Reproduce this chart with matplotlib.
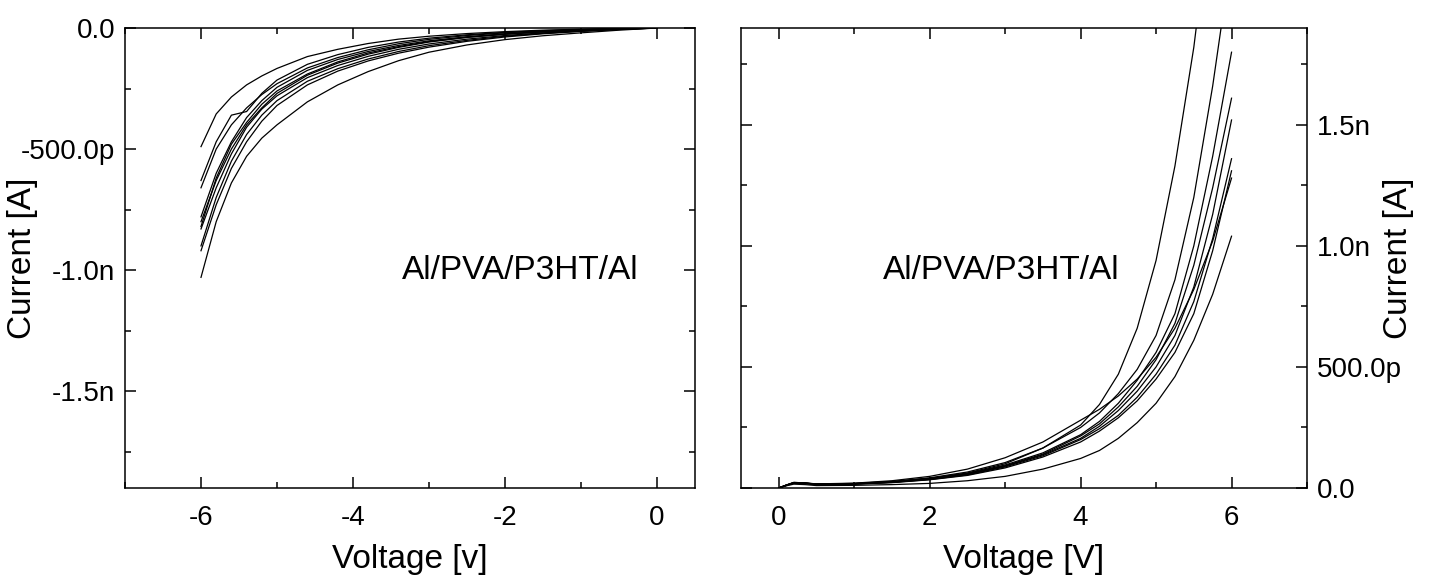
import matplotlib
matplotlib.use("Agg")
import matplotlib.pyplot as plt
from matplotlib.ticker import MultipleLocator

plt.rcParams['font.family'] = ['Liberation Sans', 'DejaVu Sans']
plt.rcParams['axes.unicode_minus'] = False

# ---------------- data (current in nA) ----------------
# Left panel: reverse bias sweeps
v_left = [-6.0, -5.8, -5.6, -5.4, -5.2, -5.0, -4.6, -4.2, -3.8, -3.4, -3.0, -2.5, -2.0, -1.5, -1.0, -0.5, 0.0]
i_left_1 = [-0.49, -0.355, -0.285, -0.235, -0.198, -0.167, -0.118, -0.088, -0.064, -0.046, -0.034, -0.023, -0.015, -0.009, -0.005, -0.002, 0.0]
i_left_2 = [-0.63, -0.47, -0.36, -0.345, -0.27, -0.215, -0.150, -0.110, -0.080, -0.058, -0.042, -0.028, -0.018, -0.011, -0.006, -0.002, 0.0]
i_left_3 = [-0.66, -0.50, -0.40, -0.33, -0.275, -0.230, -0.165, -0.122, -0.090, -0.065, -0.047, -0.031, -0.020, -0.012, -0.007, -0.003, 0.0]
i_left_4 = [-0.78, -0.60, -0.47, -0.37, -0.30, -0.245, -0.175, -0.130, -0.097, -0.072, -0.053, -0.036, -0.024, -0.015, -0.008, -0.003, 0.0]
i_left_5 = [-0.80, -0.63, -0.50, -0.40, -0.33, -0.270, -0.195, -0.145, -0.108, -0.080, -0.058, -0.039, -0.026, -0.016, -0.009, -0.004, 0.0]
i_left_6 = [-0.82, -0.62, -0.48, -0.39, -0.315, -0.260, -0.190, -0.140, -0.103, -0.077, -0.056, -0.038, -0.025, -0.016, -0.009, -0.004, 0.0]
i_left_7 = [-0.83, -0.66, -0.52, -0.41, -0.335, -0.280, -0.205, -0.155, -0.117, -0.088, -0.066, -0.046, -0.031, -0.020, -0.012, -0.005, 0.0]
i_left_8 = [-0.90, -0.70, -0.55, -0.44, -0.36, -0.300, -0.220, -0.168, -0.128, -0.097, -0.073, -0.051, -0.034, -0.022, -0.013, -0.006, 0.0]
i_left_9 = [-0.92, -0.73, -0.58, -0.47, -0.385, -0.320, -0.235, -0.178, -0.136, -0.104, -0.079, -0.055, -0.037, -0.024, -0.014, -0.006, 0.0]
i_left_10 = [-1.03, -0.80, -0.64, -0.53, -0.455, -0.40, -0.305, -0.235, -0.180, -0.135, -0.100, -0.070, -0.048, -0.032, -0.020, -0.009, 0.0]

# Right panel: forward bias sweeps
v_right = [0.0, 0.1, 0.2, 0.35, 0.5, 1.0, 1.5, 2.0, 2.5, 3.0, 3.5, 4.0, 4.25, 4.5, 4.75, 5.0, 5.25, 5.5, 5.75, 6.0]
i_right_1 = [0.0, 0.012, 0.022, 0.020, 0.016, 0.018, 0.026, 0.040, 0.062, 0.100, 0.165, 0.26, 0.345, 0.47, 0.66, 0.94, 1.33, 1.82, 2.45, 3.2]
i_right_2 = [0.0, 0.012, 0.022, 0.020, 0.016, 0.019, 0.027, 0.042, 0.066, 0.105, 0.165, 0.25, 0.31, 0.39, 0.49, 0.63, 0.86, 1.20, 1.66, 2.2]
i_right_3 = [0.0, 0.012, 0.023, 0.021, 0.016, 0.018, 0.025, 0.038, 0.060, 0.095, 0.145, 0.22, 0.275, 0.35, 0.445, 0.56, 0.72, 1.00, 1.37, 1.80]
i_right_4 = [0.0, 0.011, 0.021, 0.020, 0.015, 0.017, 0.024, 0.037, 0.058, 0.092, 0.14, 0.215, 0.265, 0.335, 0.42, 0.53, 0.68, 0.92, 1.24, 1.61]
i_right_5 = [0.0, 0.011, 0.021, 0.019, 0.015, 0.017, 0.024, 0.036, 0.056, 0.090, 0.137, 0.205, 0.255, 0.32, 0.40, 0.50, 0.63, 0.83, 1.13, 1.52]
i_right_6 = [0.0, 0.011, 0.020, 0.019, 0.015, 0.016, 0.023, 0.035, 0.054, 0.087, 0.133, 0.20, 0.245, 0.30, 0.375, 0.47, 0.59, 0.77, 1.03, 1.36]
i_right_7 = [0.0, 0.010, 0.020, 0.018, 0.014, 0.016, 0.022, 0.034, 0.052, 0.083, 0.128, 0.19, 0.235, 0.29, 0.36, 0.45, 0.56, 0.72, 0.98, 1.31]
i_right_8 = [0.0, 0.012, 0.023, 0.021, 0.017, 0.020, 0.030, 0.048, 0.078, 0.125, 0.19, 0.28, 0.325, 0.38, 0.45, 0.54, 0.66, 0.82, 1.02, 1.28]
i_right_9 = [0.0, 0.009, 0.016, 0.014, 0.010, 0.011, 0.014, 0.019, 0.030, 0.048, 0.078, 0.122, 0.155, 0.205, 0.27, 0.35, 0.46, 0.61, 0.80, 1.04]

left_curves = [i_left_1, i_left_2, i_left_3, i_left_4, i_left_5,
               i_left_6, i_left_7, i_left_8, i_left_9, i_left_10]
right_curves = [i_right_1, i_right_2, i_right_3, i_right_4, i_right_5,
                i_right_6, i_right_7, i_right_8, i_right_9]

left_yticks = [0.0, -0.5, -1.0, -1.5]
left_yticklabels = ['0.0', '-500.0p', '-1.0n', '-1.5n']
right_yticks = [0.0, 0.5, 1.0, 1.5]
right_yticklabels = ['0.0', '500.0p', '1.0n', '1.5n']
left_xticks = [-6, -4, -2, 0]
left_xticklabels = ['-6', '-4', '-2', '0']
right_xticks = [0, 2, 4, 6]
right_xticklabels = ['0', '2', '4', '6']
device_label = 'Al/PVA/P3HT/Al'

# ---------------- figure ----------------
W, H = 1429, 583
fig = plt.figure(figsize=(W / 100, H / 100), dpi=100)
ax1 = fig.add_axes([125 / W, 1 - 488 / H, (695 - 125) / W, (488 - 28) / H])
ax2 = fig.add_axes([741 / W, 1 - 488 / H, (1307 - 741) / W, (488 - 28) / H])

for c in left_curves:
    ax1.plot(v_left, c, color='black', lw=0.9)
for c in right_curves:
    ax2.plot(v_right, c, color='black', lw=0.9)

tick_fs = 20
label_fs = 24

ax1.set_xlim(-7, 0.5)
ax1.set_ylim(-1.9, 0)
ax2.set_xlim(-0.5, 7)
ax2.set_ylim(0, 1.9)

for ax, xt, xl in ((ax1, left_xticks, left_xticklabels),
                   (ax2, right_xticks, right_xticklabels)):
    ax.set_xticks(xt)
    ax.set_xticklabels(xl)
    ax.xaxis.set_minor_locator(MultipleLocator(1))
    ax.yaxis.set_minor_locator(MultipleLocator(0.25))
    ax.tick_params(which='both', direction='in', top=True, bottom=True,
                   left=True, right=True, width=1.1, labelsize=tick_fs)
    ax.tick_params(which='major', length=8)
    ax.tick_params(which='minor', length=4)
    ax.tick_params(axis='x', which='major', pad=12)
    ax.tick_params(axis='y', which='major', pad=7)
    for s in ax.spines.values():
        s.set_linewidth(1.1)

ax1.set_yticks(left_yticks)
ax1.set_yticklabels(left_yticklabels)
ax2.set_yticks(right_yticks)
ax2.set_yticklabels(right_yticklabels)
ax2.tick_params(axis='y', which='both', labelleft=False, labelright=True)
ax2.yaxis.set_label_position('right')

ax1.set_xlabel('Voltage [v]', fontsize=label_fs)
ax2.set_xlabel('Voltage [V]', fontsize=label_fs)
ax1.xaxis.set_label_coords(0.5, -0.122)
ax2.xaxis.set_label_coords(0.5, -0.122)
ax1.set_ylabel('Current [A]', fontsize=label_fs)
ax2.set_ylabel('Current [A]', fontsize=label_fs, rotation=90)
ax1.yaxis.set_label_coords(-0.152, 0.5)
ax2.yaxis.set_label_coords(1.134, 0.5)

ax1.text(-1.8, -1.0, device_label, ha='center', va='center', fontsize=label_fs)
ax2.text(2.95, 0.9, device_label, ha='center', va='center', fontsize=label_fs)

fig.savefig('out.png', dpi=100)
